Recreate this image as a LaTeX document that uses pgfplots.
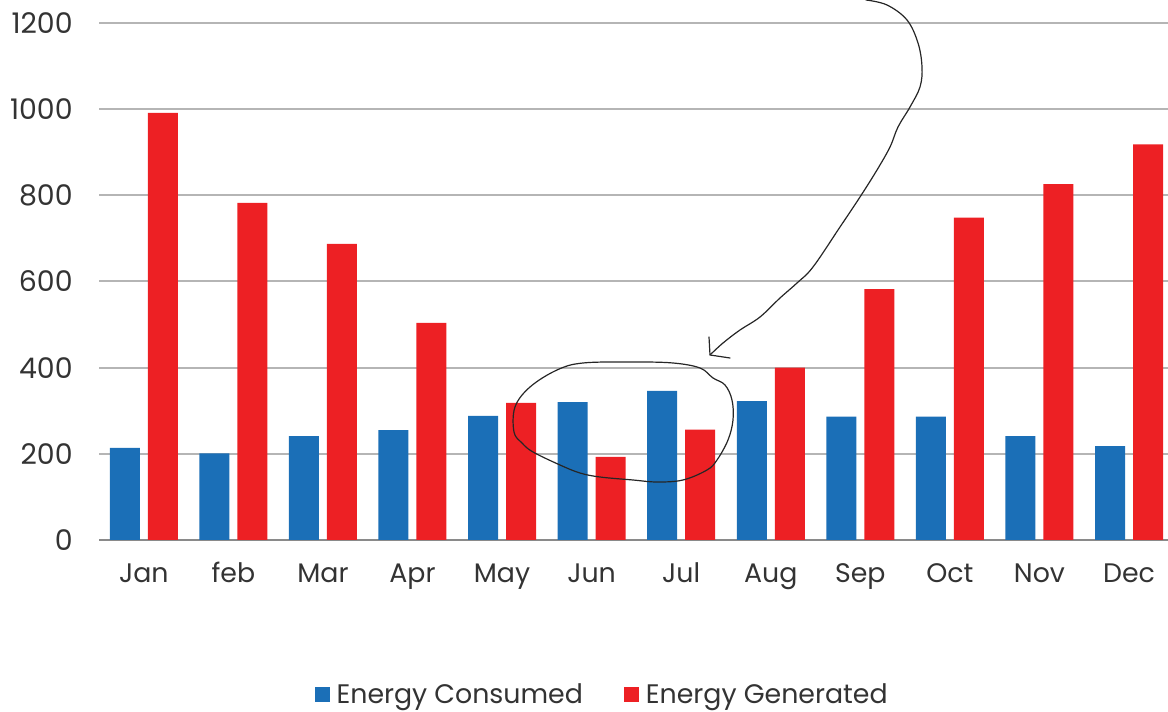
\documentclass[border=0pt]{standalone}
\usepackage{fontspec}
\setmainfont{Poppins}
\usepackage{pgfplots}
\pgfplotsset{compat=1.18}

\definecolor{consumed}{HTML}{1B6FB7}
\definecolor{generated}{HTML}{ED2024}
\definecolor{gridgray}{HTML}{B5B5B5}
\definecolor{axisgray}{HTML}{8A8A8A}
\definecolor{labelgray}{HTML}{333333}

\begin{document}
\begin{tikzpicture}[x=0.5pt,y=0.5pt]
% picture is 1168 x 712 "pixels", 1px = 0.5pt
\useasboundingbox (0,0) rectangle (1168,712);
\begin{axis}[
    at={(49.5pt,86pt)}, anchor=south west,
    scale only axis,
    width=534.5pt, height=270pt,
    xmin=-0.5, xmax=11.435,
    ymin=0, ymax=1253,
    ybar=4pt, bar width=15pt,
    xtick={0,...,11},
    xticklabels={Jan,feb,Mar,Apr,May,Jun,Jul,Aug,Sep,Oct,Nov,Dec},
    ytick={0,200,...,1200},
    major tick length=0pt,
    axis x line=bottom, axis y line=left,
    x axis line style={draw=axisgray, line width=1pt, -},
    y axis line style={draw=none},
    ymajorgrids, grid style={draw=gridgray, line width=1pt},
    /pgf/number format/assume math mode=true,
    /pgf/number format/1000 sep={},
    tick label style={font=\fontsize{13.4}{15}\selectfont, text=labelgray},
    yticklabel style={anchor=east, inner sep=0pt, xshift=-13pt,
        font=\fontsize{14.2}{16}\selectfont},
    xticklabel style={anchor=base, inner sep=0pt, yshift=-21pt},
    legend style={at={(0.473,-0.287)}, anchor=center, draw=none,
        font=\fontsize{13.4}{15}\selectfont, text=labelgray,
        legend columns=2,
        /tikz/every even column/.append style={column sep=17pt},
        nodes={inner xsep=3.5pt, inner ysep=1.5pt}},
    legend image code/.code={\fill[#1, draw=none] (0pt,-3.75pt) rectangle (7.5pt,3.75pt);},
]
\addplot[fill=consumed, draw=none] coordinates {
    (0,214) (1,201) (2,241) (3,255) (4,288) (5,320)
    (6,346) (7,322) (8,286) (9,286) (10,241) (11,218)};
\addlegendentry{Energy Consumed}
\addplot[fill=generated, draw=none] coordinates {
    (0,991) (1,782) (2,687) (3,504) (4,318) (5,193)
    (6,256) (7,400) (8,582) (9,748) (10,826) (11,918)};
\addlegendentry{Energy Generated}
\end{axis}

% hand-drawn annotation: loop round Jun/Jul and arrow from above
\begin{scope}[draw=black!85, line width=0.6pt, line cap=round, line join=round]
\draw plot[smooth cycle, tension=0.6] coordinates {
    (515,305) (530,325) (557,342) (583,349) (633,350) (673,349)
    (700,344) (713,334) (725,327) (732,312) (733,292) (728,272)
    (717,252) (707,242) (683,232) (657,230) (633,232) (600,235)
    (580,239) (560,247) (533,260) (522,269) (514,280)};
\draw plot[smooth, tension=0.6] coordinates {
    (866,712) (887,707) (907,692) (918,669) (922,645) (920,625)
    (910,605) (898,585) (890,565) (877,542) (860,515) (840,485)
    (813,445) (797,429) (780,414) (760,395) (740,382) (723,369) (710,357)};
\draw (709,375) -- (710,357) -- (730,354);
\end{scope}
\end{tikzpicture}
\end{document}
